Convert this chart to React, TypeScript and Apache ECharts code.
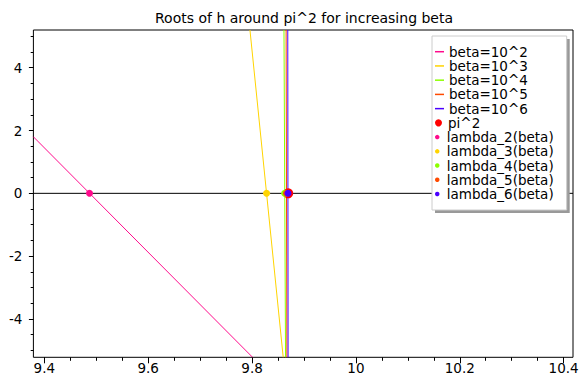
import React, { useEffect, useRef } from "react";
import * as echarts from "echarts";

const TITLE = "Roots of h around pi^2 for increasing beta";
const X_MIN = 9.379;
const X_MAX = 10.418;
const Y_MIN = -5.22;
const Y_MAX = 5.2;
const xMajorTicks = [9.4, 9.6, 9.8, 10, 10.2, 10.4];
const xMinorTicks = [9.4, 9.45, 9.5, 9.55, 9.6, 9.65, 9.7, 9.75, 9.8, 9.85, 9.9, 9.95, 10, 10.05, 10.1, 10.15, 10.2, 10.25, 10.3, 10.35, 10.4];
const yMajorTicks = [-4, -2, 0, 2, 4];
const yMinorTicks = [-5, -4.5, -4, -3.5, -3, -2.5, -2, -1.5, -1, -0.5, 0, 0.5, 1, 1.5, 2, 2.5, 3, 3.5, 4, 4.5, 5];

const lineNames = ["beta=10^2", "beta=10^3", "beta=10^4", "beta=10^5", "beta=10^6"];
const lineColors = ["#ff0a8c", "#ffd400", "#8cff00", "#ff4a00", "#4a00ff"];
// each line read as two end points [x, y]
const beta2 = [[9.379, 1.8], [9.801, -5.22]];
const beta3 = [[9.796, 5.2], [9.86, -5.22]];
const beta4 = [[9.8615, 5.2], [9.8645, -5.22]];
const beta5 = [[9.8656, 5.2], [9.8671, -5.22]];
const beta6 = [[9.8688, 5.2], [9.8694, -5.22]];
const lineData = [beta2, beta3, beta4, beta5, beta6];

const piName = "pi^2";
const piPoint = [9.8696, 0];
const rootNames = ["lambda_2(beta)", "lambda_3(beta)", "lambda_4(beta)", "lambda_5(beta)", "lambda_6(beta)"];
const rootX = [9.487, 9.828, 9.8628, 9.8664, 9.8692];

const FONT = "DejaVu Sans";

export default function App() {
  const ref = useRef<HTMLDivElement>(null);
  useEffect(() => {
    const chart = echarts.init(ref.current!, null, { renderer: "svg" });
    const fmt = (v: number) => String(+(+v).toFixed(2));
    const series: any[] = [
      {
        name: "_zero",
        type: "line",
        data: [[X_MIN, 0], [X_MAX, 0]],
        symbol: "none",
        lineStyle: { color: "#000", width: 1 },
        itemStyle: { color: "#000" },
        silent: true,
        z: 1,
      },
    ];
    lineNames.forEach((n, i) => {
      series.push({
        name: n,
        type: "line",
        data: lineData[i],
        symbol: "none",
        lineStyle: { color: lineColors[i], width: 1 },
        itemStyle: { color: lineColors[i] },
        z: 2,
      });
    });
    series.push({
      name: piName,
      type: "scatter",
      data: [piPoint],
      symbolSize: 10,
      itemStyle: { color: "#ff0000", opacity: 1 },
      z: 3,
    });
    rootNames.forEach((n, i) => {
      series.push({
        name: n,
        type: "scatter",
        data: [[rootX[i], 0]],
        symbolSize: 7,
        itemStyle: { color: lineColors[i], opacity: 1 },
        z: 4,
      });
    });
    const legendText = { fontFamily: FONT, fontSize: 13.5, color: "#000", lineHeight: 14.23 };
    const axisLineOff = { show: false, onZero: false };
    const option: any = {
      animation: false,
      title: {
        text: TITLE,
        left: 155,
        top: 11,
        padding: 0,
        textStyle: { fontFamily: FONT, fontSize: 14, fontWeight: "normal", color: "#000" },
      },
      grid: {
        left: 33.4,
        right: 588 - 573,
        top: 30,
        bottom: 390 - 357.3,
        show: true,
        borderColor: "#000",
        borderWidth: 1,
        backgroundColor: "transparent",
      },
      xAxis: [
        {
          type: "value",
          min: X_MIN,
          max: X_MAX,
          position: "bottom",
          axisLine: axisLineOff,
          splitLine: { show: false },
          axisTick: { show: true, customValues: xMajorTicks, length: 6, lineStyle: { color: "#000" } },
          axisLabel: {
            customValues: xMajorTicks,
            formatter: fmt,
            margin: 4,
            fontFamily: FONT,
            fontSize: 13.5,
            color: "#000",
          },
        },
        {
          type: "value",
          min: X_MIN,
          max: X_MAX,
          position: "bottom",
          offset: 0,
          axisLine: axisLineOff,
          splitLine: { show: false },
          axisTick: { show: true, customValues: xMinorTicks, length: 3.5, lineStyle: { color: "#000" } },
          axisLabel: { show: false },
        },
      ],
      yAxis: [
        {
          type: "value",
          min: Y_MIN,
          max: Y_MAX,
          position: "left",
          axisLine: axisLineOff,
          splitLine: { show: false },
          axisTick: { show: true, customValues: yMajorTicks, length: 4.5, lineStyle: { color: "#000" } },
          axisLabel: {
            customValues: yMajorTicks,
            formatter: fmt,
            margin: 11,
            fontFamily: FONT,
            fontSize: 13.5,
            color: "#000",
          },
        },
        {
          type: "value",
          min: Y_MIN,
          max: Y_MAX,
          position: "left",
          offset: 0,
          axisLine: axisLineOff,
          splitLine: { show: false },
          axisTick: { show: true, customValues: yMinorTicks, length: 2.7, lineStyle: { color: "#000" } },
          axisLabel: { show: false },
        },
      ],
      legend: [
        {
          data: lineNames,
          orient: "vertical",
          left: 435,
          top: 44.6,
          padding: 0,
          itemGap: 0,
          icon: "rect",
          itemWidth: 9,
          itemHeight: 1.5,
          selectedMode: false,
          textStyle: legendText,
          z: 20,
        },
        {
          data: [piName],
          orient: "vertical",
          left: 435,
          top: 44.6 + 5 * 14.23,
          padding: 0,
          itemGap: 0,
          icon: "circle",
          itemWidth: 9,
          itemHeight: 7,
          selectedMode: false,
          textStyle: legendText,
          z: 20,
        },
        {
          data: rootNames,
          orient: "vertical",
          left: 435,
          top: 44.6 + 6 * 14.23,
          padding: 0,
          itemGap: 0,
          icon: "circle",
          itemWidth: 9,
          itemHeight: 4.5,
          selectedMode: false,
          textStyle: legendText,
          z: 20,
        },
      ],
      graphic: [
        {
          type: "rect",
          shape: { x: 435, y: 39, width: 134.7, height: 174 },
          style: { fill: "#999" },
          z: 10,
          silent: true,
        },
        {
          type: "rect",
          shape: { x: 432, y: 36, width: 134.7, height: 174 },
          style: { fill: "#fff", stroke: "#ccc", lineWidth: 1 },
          z: 11,
          silent: true,
        },
      ],
      series,
    };
    chart.setOption(option);
    return () => chart.dispose();
  }, []);
  return (
    <div
      ref={ref}
      style={{ position: "fixed", left: 0, top: 0, width: 588, height: 390, background: "#fff" }}
    />
  );
}
